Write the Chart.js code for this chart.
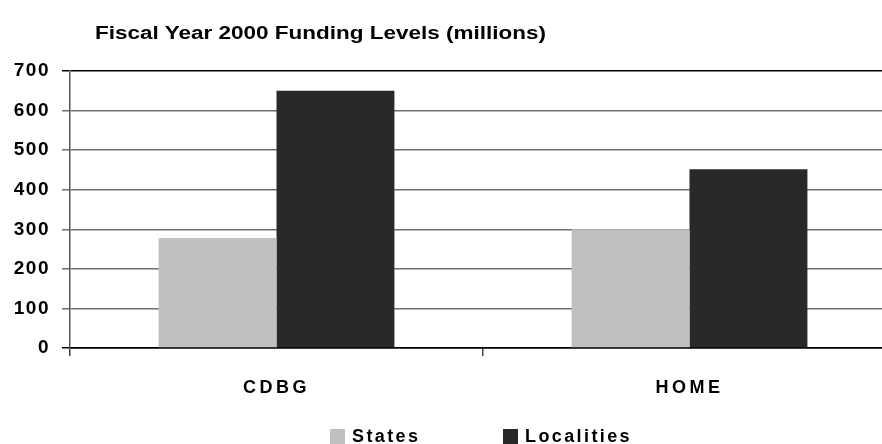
<!DOCTYPE html>
<html lang="en">
<head>
  <meta charset="UTF-8">
  <title>Fiscal Year 2000 Funding Levels</title>
  <script src="https://cdn.jsdelivr.net/npm/chart.js"></script>
  <style>
    html, body {
      margin: 0;
      padding: 0;
      width: 882px;
      height: 444px;
      overflow: hidden;
      background: #fff;
      font-family: Arial, "Liberation Sans", sans-serif;
    }
    .wrap {
      position: relative;
      width: 882px;
      height: 444px;
      overflow: hidden;
    }
    /* canvas is a bit wider than the window: the plot runs off the right edge */
    .chart-box {
      position: absolute;
      left: 0;
      top: 0;
      width: 896px;
      height: 444px;
    }
    .title {
      position: absolute;
      left: 95px;
      top: 23px;
      font-size: 18px;
      line-height: 21px;
      font-weight: bold;
      color: #000;
      white-space: nowrap;
      transform: scaleX(1.25);
      transform-origin: left top;
    }
    .legend .item {
      position: absolute;
      top: 426px;
      height: 20px;
      display: flex;
      align-items: center;
      font-size: 18px;
      font-weight: bold;
      letter-spacing: 2.4px;
      white-space: nowrap;
    }
    .legend .swatch {
      width: 15px;
      height: 15px;
      margin-right: 7px;
    }
  </style>
</head>
<body>
  <div class="wrap">
    <div class="chart-box">
      <canvas id="funding"></canvas>
    </div>
    <div class="title">Fiscal Year 2000 Funding Levels (millions)</div>
    <div class="legend" id="legend"></div>
  </div>

  <script>
    // data
    const programs = ['CDBG', 'HOME'];
    const statesFunding = [278, 300];
    const localitiesFunding = [650, 452];
    const yTicks = [0, 100, 200, 300, 400, 500, 600, 700];

    const seriesNames = ['States', 'Localities'];
    const seriesColors = ['#c0c0c0', '#292929'];
    const legendLeft = [330, 503];

    // HTML legend built from the series
    const legendEl = document.getElementById('legend');
    seriesNames.forEach((name, i) => {
      const item = document.createElement('div');
      item.className = 'item';
      item.style.left = legendLeft[i] + 'px';
      const sw = document.createElement('span');
      sw.className = 'swatch';
      sw.style.background = seriesColors[i];
      const label = document.createElement('span');
      label.textContent = name;
      item.appendChild(sw);
      item.appendChild(label);
      legendEl.appendChild(item);
    });

    // the reference spreads its axis labels out a little; add letter spacing per axis
    const spacedLabels = {
      id: 'spacedLabels',
      beforeDraw(chart) {
        const spacing = { x: '3.5px', y: '1.5px' };
        Object.keys(spacing).forEach(id => {
          const scale = chart.scales[id];
          if (!scale || scale._spaced) return;
          const orig = scale.drawLabels.bind(scale);
          scale.drawLabels = function (area) {
            const c = chart.ctx;
            c.save();
            c.letterSpacing = spacing[id];
            orig(area);
            c.restore();
          };
          scale._spaced = true;
        });
      }
    };

    const ctx = document.getElementById('funding').getContext('2d');
    new Chart(ctx, {
      type: 'bar',
      data: {
        labels: programs,
        datasets: [
          {
            label: seriesNames[0],
            data: statesFunding,
            backgroundColor: seriesColors[0],
            barPercentage: 1,
            categoryPercentage: 0.571
          },
          {
            label: seriesNames[1],
            data: localitiesFunding,
            backgroundColor: seriesColors[1],
            barPercentage: 1,
            categoryPercentage: 0.571
          }
        ]
      },
      plugins: [spacedLabels],
      options: {
        responsive: true,
        maintainAspectRatio: false,
        animation: false,
        layout: {
          padding: { top: 71, right: 0, bottom: 0, left: 0 }
        },
        plugins: {
          legend: { display: false },
          title: { display: false },
          tooltip: { enabled: false }
        },
        scales: {
          x: {
            offset: true,
            afterFit: (scale) => { scale.height = 96; },
            border: { color: '#000', width: 1.5 },
            grid: {
              offset: true,
              drawOnChartArea: false,
              drawTicks: true,
              tickLength: 8,
              color: '#444',
              lineWidth: 1.5
            },
            ticks: {
              color: '#000',
              padding: 21,
              font: { family: 'Arial, "Liberation Sans"', size: 18, weight: 'bold' }
            }
          },
          y: {
            min: 0,
            max: 700,
            afterFit: (scale) => { scale.width = 70; },
            afterBuildTicks: (scale) => {
              scale.ticks = yTicks.map(v => ({ value: v }));
            },
            border: { color: '#555', width: 1.5 },
            grid: {
              tickLength: 8,
              lineWidth: 1.5,
              color: (c) => (c.tick && (c.tick.value === 700 || c.tick.value === 0)) ? '#000' : '#707070'
            },
            ticks: {
              color: '#000',
              padding: 12,
              font: { family: 'Arial, "Liberation Sans"', size: 19, weight: 'bold' }
            }
          }
        }
      }
    });
  </script>
</body>
</html>
